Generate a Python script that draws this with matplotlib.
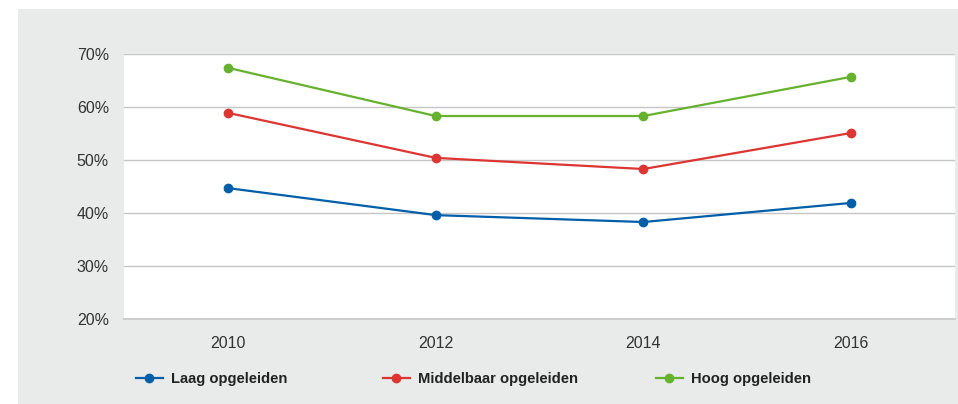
import matplotlib.pyplot as plt
from matplotlib.lines import Line2D
from matplotlib.patches import Rectangle
from matplotlib.ticker import FuncFormatter

plt.rcParams['font.family'] = ['Liberation Sans', 'DejaVu Sans']

years = ['2010', '2012', '2014', '2016']
laag = [44.7, 39.6, 38.3, 41.9]
middelbaar = [58.9, 50.4, 48.3, 55.1]
hoog = [67.4, 58.3, 58.3, 65.7]
series_names = ['Laag opgeleiden', 'Middelbaar opgeleiden', 'Hoog opgeleiden']
colors = ['#005fa8', '#dc3532', '#66b22e']

W, H = 958, 404
fig = plt.figure(figsize=(W / 100, H / 100), dpi=100)
fig.patch.set_facecolor('white')

# grey panel behind everything
fig.patches.append(Rectangle((18 / W, 0), (W - 18) / W, (H - 9) / H,
                             transform=fig.transFigure, facecolor='#e9eaea',
                             edgecolor='none', zorder=-10))

ax = fig.add_axes([124 / W, 1 - 319 / H, (955 - 124) / W, (319 - 54) / H])
ax.set_facecolor('white')

x = range(len(years))
for vals, c in zip([laag, middelbaar, hoog], colors):
    ax.plot(x, vals, color=c, lw=1.6, marker='o', ms=6, zorder=3)

ax.set_xlim(-0.5, len(years) - 0.5)
ax.set_ylim(20, 70)
ax.set_yticks(range(20, 71, 10))
ax.yaxis.set_major_formatter(FuncFormatter(lambda v, p: f'{v:.0f}%'))
ax.set_xticks(list(x))
ax.set_xticklabels(years)
ax.grid(axis='y', color='#c6c6c6', lw=1)
ax.set_axisbelow(True)
for s in ['left', 'right', 'top']:
    ax.spines[s].set_visible(False)
ax.spines['bottom'].set_color('#c6c6c6')
ax.spines['bottom'].set_linewidth(1.2)
ax.tick_params(length=0, labelsize=11.5, colors='#333333')
ax.tick_params(axis='y', pad=10.8)
ax.tick_params(axis='x', pad=12)

# legend, three separate entries
legend_x = [136, 383, 656]
for name, c, lx in zip(series_names, colors, legend_x):
    h = Line2D([], [], color=c, lw=1.6, marker='o', ms=6)
    leg = fig.legend([h], [name], loc='center left',
                     bbox_to_anchor=(lx / W, 1 - 379 / H), frameon=False,
                     handlelength=1.8, handletextpad=0.6, borderpad=0,
                     borderaxespad=0,
                     prop={'weight': 'bold', 'size': 10.6})
    for t in leg.get_texts():
        t.set_color('#222222')

fig.savefig('out.png', dpi=100)
